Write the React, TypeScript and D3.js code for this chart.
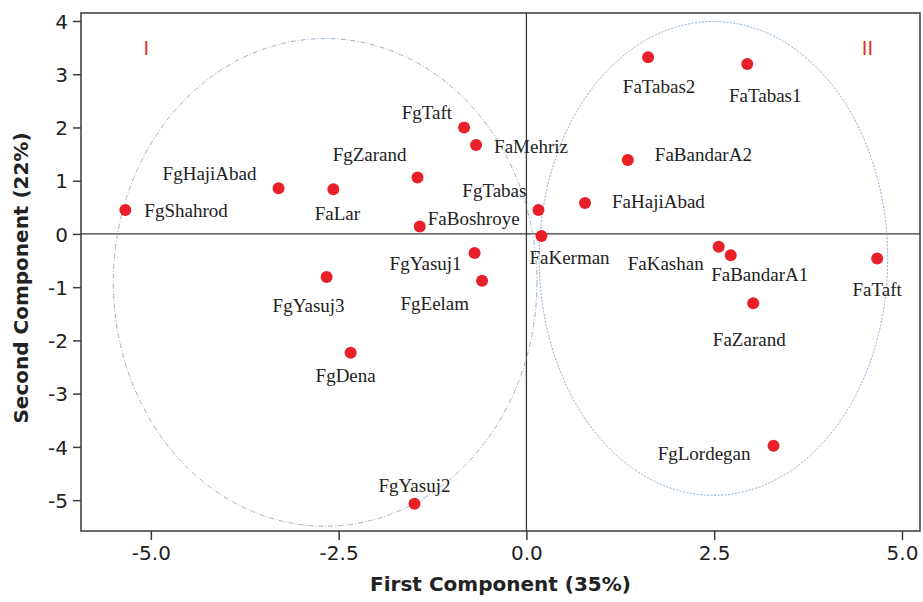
import { useEffect, useRef } from 'react';
import * as d3 from 'd3';

// genotype names and PCA scores
const names = [
  'FgShahrod', 'FgHajiAbad', 'FaLar', 'FgZarand', 'FgTaft', 'FaMehriz',
  'FaBoshroye', 'FgYasuj1', 'FgEelam', 'FgYasuj3', 'FgDena', 'FgYasuj2',
  'FgTabas', 'FaKerman', 'FaHajiAbad', 'FaBandarA2', 'FaTabas2', 'FaTabas1',
  'FaKashan', 'FaBandarA1', 'FaTaft', 'FaZarand', 'FgLordegan'
];
const pc1 = [
  -5.34, -3.30, -2.57, -1.45, -0.83, -0.67,
  -1.42, -0.69, -0.59, -2.66, -2.34, -1.49,
  0.16, 0.20, 0.78, 1.35, 1.62, 2.94,
  2.56, 2.72, 4.67, 3.02, 3.29
];
const pc2 = [
  0.45, 0.86, 0.84, 1.06, 2.00, 1.67,
  0.14, -0.36, -0.88, -0.81, -2.23, -5.07,
  0.45, -0.04, 0.58, 1.39, 3.32, 3.19,
  -0.24, -0.40, -0.46, -1.30, -3.98
];

const xTicks = [-5.0, -2.5, 0.0, 2.5, 5.0];
const yTicks = [4, 3, 2, 1, 0, -1, -2, -3, -4, -5];

// group ellipses: centre x, centre y, radius x, radius y (data units)
const groupNames = ['I', 'II'];
const groupCx = [-2.68, 2.49];
const groupCy = [-0.91, -0.46];
const groupRx = [2.82, 2.32];
const groupRy = [4.58, 4.45];
const groupLabelX = [-5.06, 4.54];
const groupLabelY = [3.36, 3.36];

// label placement relative to the dot: [dx, dy, anchor]
const LABEL_POS: Record<string, [number, number, string]> = {
  FgShahrod: [19, 7, 'start'],
  FgHajiAbad: [-22, -8, 'end'],
  FaLar: [4, 31, 'middle'],
  FgZarand: [-11, -17, 'end'],
  FgTaft: [-12, -8, 'end'],
  FaMehriz: [18, 8, 'start'],
  FaBoshroye: [8, -1, 'start'],
  FgYasuj1: [-13, 17, 'end'],
  FgEelam: [-13, 29, 'end'],
  FgYasuj3: [-18, 35, 'middle'],
  FgDena: [-5, 29, 'middle'],
  FgYasuj2: [0, -12, 'middle'],
  FgTabas: [-12, -13, 'end'],
  FaKerman: [-12, 28, 'start'],
  FaHajiAbad: [27, 5, 'start'],
  FaBandarA2: [27, 1, 'start'],
  FaTabas2: [11, 36, 'middle'],
  FaTabas1: [18, 38, 'middle'],
  FaKashan: [-15, 23, 'end'],
  FaBandarA1: [29, 26, 'middle'],
  FaTaft: [0, 38, 'middle'],
  FaZarand: [-4, 43, 'middle'],
  FgLordegan: [-23, 14, 'end']
};

export default function App() {
  const svgRef = useRef<SVGSVGElement>(null);

  useEffect(() => {
    if (!svgRef.current) return;
    const width = 923;
    const height = 602;
    const margin = { top: 13, right: 3, bottom: 71, left: 81 };
    const innerW = width - margin.left - margin.right;
    const innerH = height - margin.top - margin.bottom;

    const svg = d3.select(svgRef.current);
    svg.selectAll('*').remove();
    svg.attr('width', width).attr('height', height);

    const g = svg.append('g').attr('transform', `translate(${margin.left},${margin.top})`);

    const x = d3.scaleLinear().domain([-5.93, 5.24]).range([0, innerW]);
    const y = d3.scaleLinear().domain([-5.58, 4.15]).range([innerH, 0]);

    const axisColor = '#3a3a3a';
    const tickFont = '"DejaVu Sans", Verdana, sans-serif';
    // plain hyphen instead of d3's unicode minus
    const fmt = (spec: string) => (d: d3.NumberValue) => d3.format(spec)(d).replace('\u2212', '-');

    // frame
    g.append('rect')
      .attr('width', innerW)
      .attr('height', innerH)
      .attr('fill', 'none')
      .attr('stroke', axisColor)
      .attr('stroke-width', 1.5);

    // zero reference lines
    g.append('line')
      .attr('x1', x(0)).attr('x2', x(0))
      .attr('y1', 0).attr('y2', innerH)
      .attr('stroke', axisColor).attr('stroke-width', 1.3);
    g.append('line')
      .attr('x1', 0).attr('x2', innerW)
      .attr('y1', y(0)).attr('y2', y(0))
      .attr('stroke', axisColor).attr('stroke-width', 1.3);

    // axes
    const xAxis = g.append('g')
      .attr('transform', `translate(0,${innerH})`)
      .call(d3.axisBottom(x).tickValues(xTicks).tickFormat(fmt('.1f')).tickSize(9).tickPadding(6));
    const yAxis = g.append('g')
      .call(d3.axisLeft(y).tickValues(yTicks).tickFormat(fmt('d')).tickSize(8).tickPadding(5));

    [xAxis, yAxis].forEach(a => {
      a.select('.domain').remove();
      a.selectAll('line').attr('stroke', axisColor).attr('stroke-width', 1.5);
      a.selectAll('text')
        .attr('font-family', tickFont)
        .attr('font-size', '20px')
        .attr('fill', '#222');
    });
    yAxis.selectAll('text').attr('dy', '0.36em');

    // group ellipses
    const ellipseStyles = [
      { stroke: '#9db3c9', dash: '5,2,1,2' },
      { stroke: '#86a8d4', dash: '2,1.5' }
    ];
    g.selectAll('.group-ellipse')
      .data(groupNames)
      .enter()
      .append('ellipse')
      .attr('class', 'group-ellipse')
      .attr('cx', (_, i) => x(groupCx[i]))
      .attr('cy', (_, i) => y(groupCy[i]))
      .attr('rx', (_, i) => x(groupRx[i]) - x(0))
      .attr('ry', (_, i) => y(0) - y(groupRy[i]))
      .attr('fill', 'none')
      .attr('stroke', (_, i) => ellipseStyles[i].stroke)
      .attr('stroke-width', 1)
      .attr('stroke-dasharray', (_, i) => ellipseStyles[i].dash);

    g.selectAll('.group-label')
      .data(groupNames)
      .enter()
      .append('text')
      .attr('class', 'group-label')
      .attr('x', (_, i) => x(groupLabelX[i]))
      .attr('y', (_, i) => y(groupLabelY[i]))
      .attr('text-anchor', 'middle')
      .attr('font-family', '"DejaVu Sans", sans-serif')
      .attr('font-size', '19px')
      .attr('fill', '#e3302a')
      .text(d => d);

    // points
    g.selectAll('.dot')
      .data(names)
      .enter()
      .append('circle')
      .attr('class', 'dot')
      .attr('cx', (_, i) => x(pc1[i]))
      .attr('cy', (_, i) => y(pc2[i]))
      .attr('r', 6)
      .attr('fill', '#e8202a');

    // point labels
    g.selectAll('.pt-label')
      .data(names)
      .enter()
      .append('text')
      .attr('class', 'pt-label')
      .attr('x', (d, i) => x(pc1[i]) + LABEL_POS[d][0])
      .attr('y', (d, i) => y(pc2[i]) + LABEL_POS[d][1])
      .attr('text-anchor', d => LABEL_POS[d][2])
      .attr('font-family', '"Liberation Serif", "Times New Roman", serif')
      .attr('font-size', '19px')
      .attr('fill', '#222')
      .text(d => d);

    // axis titles
    svg.append('text')
      .attr('x', margin.left + innerW / 2)
      .attr('y', 591)
      .attr('text-anchor', 'middle')
      .attr('font-family', tickFont)
      .attr('font-weight', 'bold')
      .attr('font-size', '20px')
      .attr('fill', '#222')
      .text('First Component (35%)');

    svg.append('text')
      .attr('transform', 'translate(28,278) rotate(-90)')
      .attr('text-anchor', 'middle')
      .attr('font-family', tickFont)
      .attr('font-weight', 'bold')
      .attr('font-size', '20px')
      .attr('fill', '#222')
      .text('Second Component (22%)');
  }, []);

  return (
    <div style={{ position: 'absolute', left: 0, top: 0, background: '#fff' }}>
      <svg ref={svgRef} style={{ display: 'block' }}></svg>
    </div>
  );
}
